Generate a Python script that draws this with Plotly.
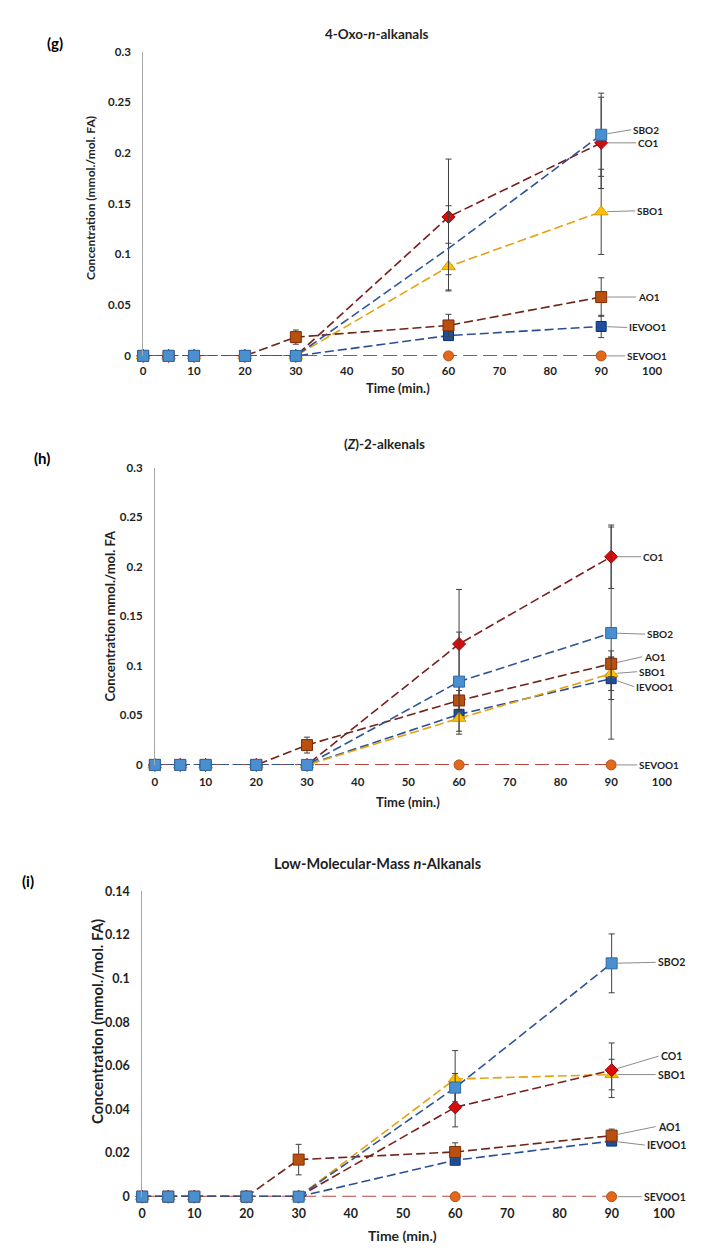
import plotly.graph_objects as go

W, H = 704, 1251

# ---------------- data ----------------
time_min = [0, 5, 10, 20, 30, 60, 90]
x_ticks = [0, 10, 20, 30, 40, 50, 60, 70, 80, 90, 100]

# (g) 4-Oxo-n-alkanals
g_SEVOO1 = [0, 0, 0, 0, 0, 0, 0]
g_IEVOO1 = [0, 0, 0, 0, 0, 0.020, 0.029]
g_SBO1 = [0, 0, 0, 0, 0, 0.088, 0.142]
g_CO1 = [0, 0, 0, 0, 0, 0.137, 0.210]
g_AO1 = [0, 0, 0, 0, 0.0185, 0.030, 0.058]
g_SBO2 = [0, 0, 0, 0, 0, 0.106, 0.218]
g_err_SEVOO1 = [0, 0, 0, 0, 0, 0, 0]
g_err_IEVOO1 = [0, 0, 0, 0, 0, 0.002, 0.011]
g_err_SBO1 = [0, 0, 0, 0, 0, 0.023, 0.042]
g_err_CO1 = [0, 0, 0, 0, 0, 0.057, 0.045]
g_err_AO1 = [0, 0, 0, 0, 0.007, 0.011, 0.019]
g_err_SBO2 = [0, 0, 0, 0, 0, 0.042, 0.041]
g_SBO2_marker_shown = [1, 1, 1, 1, 1, 0, 1]

# (h) (Z)-2-alkenals
h_SEVOO1 = [0, 0, 0, 0, 0, 0, 0]
h_IEVOO1 = [0, 0, 0, 0, 0, 0.051, 0.087]
h_SBO1 = [0, 0, 0, 0, 0, 0.047, 0.092]
h_CO1 = [0, 0, 0, 0, 0, 0.122, 0.210]
h_AO1 = [0, 0, 0, 0, 0.020, 0.065, 0.102]
h_SBO2 = [0, 0, 0, 0, 0, 0.084, 0.133]
h_err_SEVOO1 = [0, 0, 0, 0, 0, 0, 0]
h_err_IEVOO1 = [0, 0, 0, 0, 0, 0.005, 0.021]
h_err_SBO1 = [0, 0, 0, 0, 0, 0.016, 0.017]
h_err_CO1 = [0, 0, 0, 0, 0, 0.055, 0.032]
h_err_AO1 = [0, 0, 0, 0, 0.008, 0.010, 0.013]
h_err_SBO2 = [0, 0, 0, 0, 0, 0.050, 0.107]

# (i) Low-Molecular-Mass n-Alkanals
i_SEVOO1 = [0, 0, 0, 0, 0, 0, 0]
i_IEVOO1 = [0, 0, 0, 0, 0, 0.0167, 0.0255]
i_SBO1 = [0, 0, 0, 0, 0, 0.054, 0.056]
i_CO1 = [0, 0, 0, 0, 0, 0.041, 0.058]
i_AO1 = [0, 0, 0, 0, 0.017, 0.0205, 0.028]
i_SBO2 = [0, 0, 0, 0, 0, 0.050, 0.107]
i_err_SEVOO1 = [0, 0, 0, 0, 0, 0, 0]
i_err_IEVOO1 = [0, 0, 0, 0, 0, 0.002, 0.002]
i_err_SBO1 = [0, 0, 0, 0, 0, 0.013, 0.007]
i_err_CO1 = [0, 0, 0, 0, 0, 0.009, 0.0125]
i_err_AO1 = [0, 0, 0, 0, 0.007, 0.0042, 0.003]
i_err_SBO2 = [0, 0, 0, 0, 0, 0.0065, 0.0135]

series_order = ["SEVOO1", "IEVOO1", "SBO1", "CO1", "AO1", "SBO2"]

panels = [
    dict(letter="(g)", title="<b>4-Oxo-<i>n</i>-alkanals</b>",
         ytitle="Concentration (mmol./mol. FA)",
         values={"SEVOO1": g_SEVOO1, "IEVOO1": g_IEVOO1, "SBO1": g_SBO1,
                 "CO1": g_CO1, "AO1": g_AO1, "SBO2": g_SBO2},
         errors={"SEVOO1": g_err_SEVOO1, "IEVOO1": g_err_IEVOO1, "SBO1": g_err_SBO1,
                 "CO1": g_err_CO1, "AO1": g_err_AO1, "SBO2": g_err_SBO2},
         shown={"SBO2": g_SBO2_marker_shown},
         ymax=0.3, dy=0.05,
         px_x=(134, 654), px_y=(344, 36),
         letter_pos=(44, 27), letter_size=15,
         title_pos=(373, 18), title_size=13.5,
         ytitle_pos=(80, 184), ytitle_size=12,
         xtitle_pos=(394, 377), xtitle_size=13,
         tick_size=11.5, label_size=10, xticklen=4,
         labels={"SBO2": (30, -5), "CO1": (35, 0), "SBO1": (34, -1),
                 "AO1": (35, 0), "IEVOO1": (26, 1), "SEVOO1": (24, 0)}),
    dict(letter="(h)", title="<b>(<i>Z</i>)-2-alkenals</b>",
         ytitle="Concentration mmol./mol. FA",
         values={"SEVOO1": h_SEVOO1, "IEVOO1": h_IEVOO1, "SBO1": h_SBO1,
                 "CO1": h_CO1, "AO1": h_AO1, "SBO2": h_SBO2},
         errors={"SEVOO1": h_err_SEVOO1, "IEVOO1": h_err_IEVOO1, "SBO1": h_err_SBO1,
                 "CO1": h_err_CO1, "AO1": h_err_AO1, "SBO2": h_err_SBO2},
         shown={},
         ymax=0.3, dy=0.05,
         px_x=(146, 664), px_y=(758, 457),
         letter_pos=(31, 447), letter_size=15,
         title_pos=(381, 433), title_size=13.5,
         ytitle_pos=(100, 607), ytitle_size=13,
         xtitle_pos=(405, 796), xtitle_size=13,
         tick_size=11.5, label_size=10, xticklen=6,
         labels={"CO1": (30, 0), "SBO2": (34, 1), "AO1": (31, -7),
                 "SBO1": (26, -2), "IEVOO1": (23, 8), "SEVOO1": (26, 0)}),
    dict(letter="(i)", title="<b>Low-Molecular-Mass <i>n</i>-Alkanals</b>",
         ytitle="Concentration (mmol./mol. FA)",
         values={"SEVOO1": i_SEVOO1, "IEVOO1": i_IEVOO1, "SBO1": i_SBO1,
                 "CO1": i_CO1, "AO1": i_AO1, "SBO2": i_SBO2},
         errors={"SEVOO1": i_err_SEVOO1, "IEVOO1": i_err_IEVOO1, "SBO1": i_err_SBO1,
                 "CO1": i_err_CO1, "AO1": i_err_AO1, "SBO2": i_err_SBO2},
         shown={},
         ymax=0.14, dy=0.02,
         px_x=(133, 666), px_y=(1195, 886),
         letter_pos=(16, 875), letter_size=15,
         title_pos=(373, 858), title_size=14.5,
         ytitle_pos=(87, 1018), ytitle_size=15,
         xtitle_pos=(399, 1234), xtitle_size=14,
         tick_size=12.5, label_size=10.5, xticklen=5,
         labels={"SBO2": (44, -1), "CO1": (47, -14), "SBO1": (44, 0),
                 "AO1": (44, -9), "IEVOO1": (33, 4), "SEVOO1": (30, 0)}),
]

styles = {
    "SEVOO1": dict(symbol="circle", size=10, fill="#E2691B", edge="#B5501A", line="#B9473F", dash="14px,6px"),
    "IEVOO1": dict(symbol="square", size=10, fill="#1F4FA0", edge="#0E2F6E", line="#2B4F96", dash="9px,4px"),
    "SBO1": dict(symbol="triangle-up", size=12, fill="#FFC000", edge="#D99A00", line="#E5A20F", dash="9px,4px"),
    "CO1": dict(symbol="diamond", size=10, fill="#D80C0C", edge="#9B0000", line="#7A1E1E", dash="9px,4px"),
    "AO1": dict(symbol="square", size=11, fill="#B8500F", edge="#7F2B0A", line="#6E2418", dash="9px,4px"),
    "SBO2": dict(symbol="square", size=11, fill="#4A8FD0", edge="#2E6AA8", line="#2F5597", dash="9px,4px"),
}

FONT = "Lato, 'Open Sans', sans-serif"
TXT = "#1f1f1f"


def px_x(p):
    return p / W


def px_y(p):
    return 1 - p / H


fig = go.Figure()
annotations = []
layout_axes = {}

for k, pn in enumerate(panels, start=1):
    xa = "x" if k == 1 else f"x{k}"
    ya = "y" if k == 1 else f"y{k}"
    for name in series_order:
        st = styles[name]
        vals = pn["values"][name]
        errs = pn["errors"][name]
        shown = pn["shown"].get(name, [1] * len(vals))
        sizes = [st["size"] if s else 0 for s in shown]
        fig.add_trace(go.Scatter(
            x=time_min, y=vals, xaxis=xa, yaxis=ya, name=name,
            mode="lines+markers", cliponaxis=False, showlegend=False,
            line=dict(color=st["line"], width=1.6, dash=st["dash"]),
            marker=dict(symbol=st["symbol"], size=sizes, color=st["fill"],
                        opacity=1, line=dict(color=st["edge"], width=1)),
            error_y=dict(type="data", array=errs, visible=True,
                         color="#404040", thickness=1, width=3),
        ))
        ax, ay = pn["labels"][name]
        annotations.append(dict(
            x=time_min[-1], y=vals[-1], xref=xa, yref=ya,
            text=f"<b>{name}</b>", showarrow=True, arrowhead=0,
            arrowwidth=1, arrowcolor="#8c8c8c", ax=ax, ay=ay,
            xanchor="left", yanchor="middle", standoff=6,
            font=dict(family=FONT, size=pn["label_size"], color=TXT),
        ))

    x0, x1 = pn["px_x"]
    yb, yt = pn["px_y"]
    xkey = "xaxis" if k == 1 else f"xaxis{k}"
    ykey = "yaxis" if k == 1 else f"yaxis{k}"
    layout_axes[xkey] = dict(
        domain=[px_x(x0), px_x(x1)], anchor=ya, range=[0, 100],
        tickmode="array", tickvals=x_ticks, ticktext=[str(t) for t in x_ticks],
        showgrid=False, zeroline=False, showline=False,
        ticks="outside", ticklen=pn["xticklen"], tickcolor="rgba(0,0,0,0)",
        tickfont=dict(family=FONT, size=pn["tick_size"], color=TXT, weight=700),
    )
    layout_axes[ykey] = dict(
        domain=[px_y(yb), px_y(yt)], anchor=xa, range=[0, pn["ymax"]],
        dtick=pn["dy"], tick0=0,
        showgrid=False, zeroline=False, showline=True,
        linecolor="#a6a6a6", linewidth=1,
        ticks="outside", ticklen=9, tickcolor="rgba(0,0,0,0)",
        tickfont=dict(family=FONT, size=pn["tick_size"], color=TXT, weight=700),
    )

    lx, ly = pn["letter_pos"]
    annotations.append(dict(x=px_x(lx), y=px_y(ly), xref="paper", yref="paper",
                            text=f"<b>{pn['letter']}</b>", showarrow=False,
                            xanchor="center", yanchor="middle",
                            font=dict(family=FONT, size=pn["letter_size"], color="#000")))
    tx, ty = pn["title_pos"]
    annotations.append(dict(x=px_x(tx), y=px_y(ty), xref="paper", yref="paper",
                            text=pn["title"], showarrow=False,
                            xanchor="center", yanchor="middle",
                            font=dict(family=FONT, size=pn["title_size"], color=TXT)))
    yx, yy = pn["ytitle_pos"]
    annotations.append(dict(x=px_x(yx), y=px_y(yy), xref="paper", yref="paper",
                            text=f"<b>{pn['ytitle']}</b>", showarrow=False, textangle=-90,
                            xanchor="center", yanchor="middle",
                            font=dict(family=FONT, size=pn["ytitle_size"], color=TXT)))
    xx, xy = pn["xtitle_pos"]
    annotations.append(dict(x=px_x(xx), y=px_y(xy), xref="paper", yref="paper",
                            text="<b>Time (min.)</b>", showarrow=False,
                            xanchor="center", yanchor="middle",
                            font=dict(family=FONT, size=pn["xtitle_size"], color=TXT)))

fig.update_layout(
    width=W, height=H, autosize=False,
    margin=dict(l=0, r=0, t=0, b=0),
    paper_bgcolor="white", plot_bgcolor="white",
    showlegend=False, annotations=annotations,
    font=dict(family=FONT, color=TXT),
    **layout_axes,
)

fig.write_html("out.html")
